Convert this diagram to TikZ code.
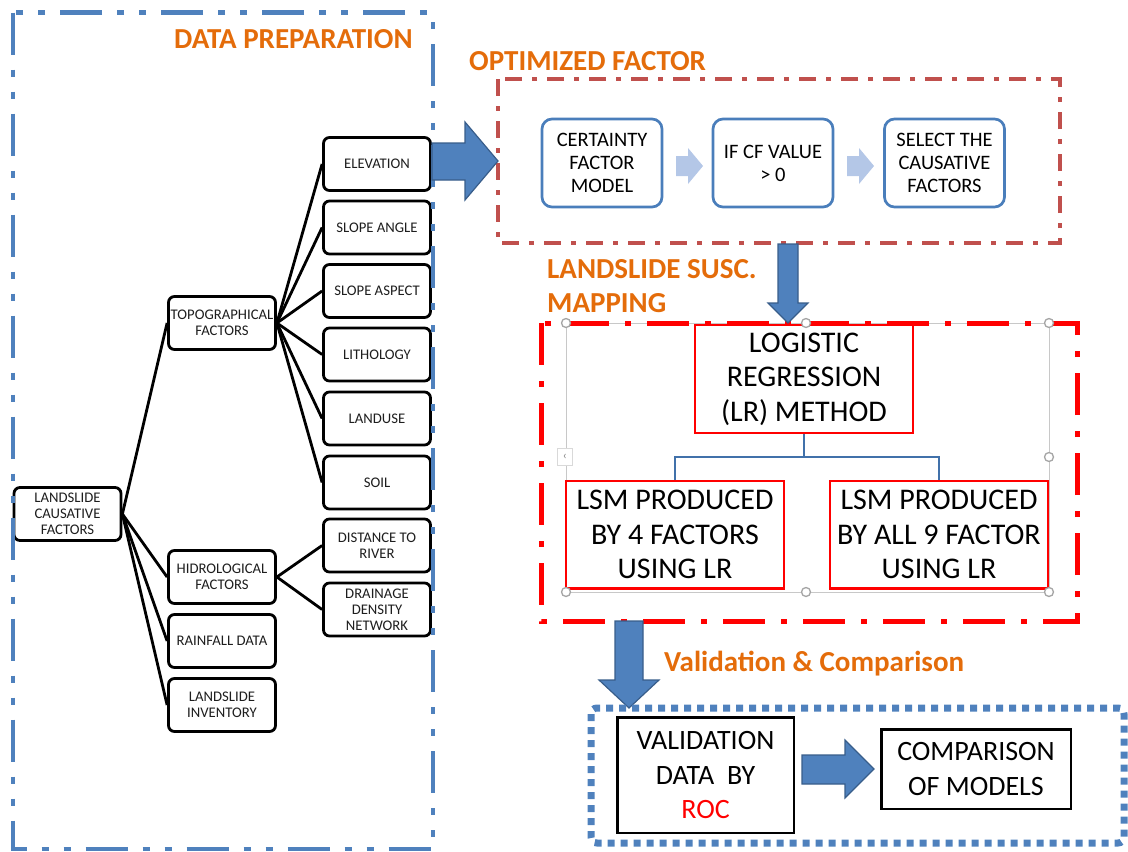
\documentclass[tikz,border=0pt]{standalone}
\usepackage{fontspec}
\setmainfont{Carlito}
\usetikzlibrary{calc}
\definecolor{frameblue}{RGB}{79,129,189}
\definecolor{arrowedge}{RGB}{56,93,138}
\definecolor{titleorange}{RGB}{228,108,10}
\definecolor{optred}{RGB}{192,80,77}
\definecolor{lightarrow}{RGB}{180,199,231}
\definecolor{cfblue}{RGB}{74,126,187}
\definecolor{handlegray}{RGB}{165,165,165}
\definecolor{selgray}{RGB}{200,200,200}
\definecolor{linkblue}{RGB}{65,113,170}
\definecolor{leaftext}{RGB}{30,30,30}

\begin{document}
\begin{tikzpicture}[x=1pt,y=-1pt,
  leaf/.style={draw=black, line width=2.8pt, rounded corners=6pt, fill=white,
    minimum width=107pt, minimum height=53pt, inner sep=0pt, align=center,
    text=leaftext, font=\fontsize{14.7}{16}\selectfont},
  tree/.style={line width=2.8pt, black},
  title/.style={anchor=base west, inner sep=0pt, text=titleorange,
    font=\bfseries\fontsize{29}{34}\selectfont},
  cfbox/.style={draw=cfblue, line width=2.7pt, rounded corners=10pt, fill=white,
    minimum width=120pt, minimum height=88pt, inner sep=0pt, align=center,
    font=\fontsize{20.5}{23}\selectfont},
  lrbox/.style={draw=red, line width=2.4pt, fill=white, inner sep=0pt, align=center,
    minimum width=217.6pt, minimum height=107.6pt, font=\fontsize{30}{34.5}\selectfont},
  valbox/.style={draw=black, line width=2.5pt, fill=white, inner sep=0pt, align=center,
    font=\fontsize{28}{35}\selectfont},
  blockarrow/.style={fill=frameblue, draw=arrowedge, line width=1.2pt, line join=miter},
  softarrow/.style={fill=lightarrow, draw=none},
  handle/.style={circle, draw=handlegray, line width=1.3pt, fill=white,
    minimum size=9pt, inner sep=0pt},
]
\useasboundingbox (0,0) rectangle (1128,852);

% ---------------- data preparation tree ----------------
\node[leaf] (root) at (67.5,514) {LANDSLIDE\\CAUSATIVE\\FACTORS};
\node[leaf] (topo) at (222,323) {TOPOGRAPHICAL\\FACTORS};
\node[leaf] (hydro) at (222,577) {HIDROLOGICAL\\FACTORS};
\node[leaf] (rain) at (222,641) {RAINFALL DATA};
\node[leaf] (inv) at (222,705) {LANDSLIDE\\INVENTORY};

\node[leaf] (elev) at (377,164) {ELEVATION};
\node[leaf] (slope) at (377,227.5) {SLOPE ANGLE};
\node[leaf] (aspect) at (377,291) {SLOPE ASPECT};
\node[leaf] (litho) at (377,354.5) {LITHOLOGY};
\node[leaf] (landuse) at (377,418.5) {LANDUSE};
\node[leaf] (soil) at (377,482.5) {SOIL};
\node[leaf] (river) at (377,545.5) {DISTANCE TO\\RIVER};
\node[leaf] (drain) at (377,609.5) {DRAINAGE\\DENSITY\\NETWORK};

\foreach \c in {topo,hydro,rain,inv}
  \draw[tree] (root.east) -- (\c.west);
\foreach \c in {elev,slope,aspect,litho,landuse,soil}
  \draw[tree] (topo.east) -- (\c.west);
\foreach \c in {river,drain}
  \draw[tree] (hydro.east) -- (\c.west);

% dash-dot-dot frame around the data preparation stage
\draw[frameblue, line width=4.5pt,
  dash pattern=on 42pt off 15pt on 7pt off 15pt on 7pt off 15pt]
  (13,12.5) rectangle (433,849);
\node[title] (tprep) at (174,48) {DATA PREPARATION};

% ---------------- optimized factor stage ----------------
\draw[optred, line width=3.5pt, dash pattern=on 17pt off 10pt on 5pt off 10pt]
  (498,79) rectangle (1060,243);
\node[title] (topt) at (469,70) {OPTIMIZED FACTOR};

\node[cfbox] (cfm) at (602,163) {CERTAINTY\\FACTOR\\MODEL};
\node[cfbox] (cfv) at (773,163) {IF CF VALUE\\> 0};
\node[cfbox] (sel) at (944.5,163) {SELECT THE\\CAUSATIVE\\FACTORS};

\fill[softarrow] (676,156) -- (688,156) -- (688,148) -- (703,166) -- (688,184)
  -- (688,176) -- (676,176) -- cycle;
\fill[softarrow] (847,156) -- (859,156) -- (859,148) -- (874,166) -- (859,184)
  -- (859,176) -- (847,176) -- cycle;

% block arrow from the factors to the optimisation stage
\filldraw[blockarrow] (432,143) -- (465,143) -- (465,122) -- (498,161) -- (465,200)
  -- (465,180) -- (432,180) -- cycle;

% ---------------- susceptibility mapping stage ----------------
\node[title] (tlsm1) at (547,278) {LANDSLIDE SUSC.};
\node[title] (tlsm2) at (547,312) {MAPPING};

\draw[selgray, line width=1pt] (566,323) rectangle (1049,592);
\draw[red, line width=5pt, dash pattern=on 42pt off 16pt on 6pt off 16pt]
  (541,323) rectangle (1077,621);

\node[lrbox] (lr) at (804,379) {LOGISTIC\\REGRESSION\\(LR) METHOD};
\node[lrbox] (lsm4) at (675,534.5) {LSM PRODUCED\\BY 4 FACTORS\\USING LR};
\node[lrbox] (lsm9) at (939,534.5) {LSM PRODUCED\\BY ALL 9 FACTOR\\USING LR};

\draw[linkblue, line width=2.5pt] (lr.south) -- ++(0,23) -| (lsm4.north);
\draw[linkblue, line width=2.5pt] (lr.south) -- ++(0,23) -| (lsm9.north);

\filldraw[blockarrow] (778,244) -- (798,244) -- (798,303) -- (808,303) -- (788,323)
  -- (768,303) -- (778,303) -- cycle;

% selection handles
\node[handle] (hTL) at (566,323) {};
\node[handle] (hTM) at (806,323) {};
\node[handle] (hTR) at (1049,323) {};
\node[handle] (hRM) at (1049,457) {};
\node[handle] (hBL) at (566,592) {};
\node[handle] (hBM) at (806,592) {};
\node[handle] (hBR) at (1049,592) {};
\node[draw=selgray!70, fill=white, minimum width=15pt, minimum height=17pt,
  inner sep=0pt, text=gray, font=\fontsize{12}{12}\selectfont] (tab) at (565,457) {‹};

% ---------------- validation stage ----------------
\filldraw[blockarrow] (615,621) -- (643,621) -- (643,680) -- (659,680) -- (629,708)
  -- (599,680) -- (615,680) -- cycle;
\node[title] (tval) at (664,671) {Validation \& Comparison};

\draw[frameblue, line width=7pt, dash pattern=on 7pt off 6pt, rounded corners=6pt]
  (591,708) rectangle (1124,843);

\node[valbox, minimum width=176.5pt, minimum height=115.5pt] (valid) at (705.5,775)
  {VALIDATION\\DATA\ \ BY\\\textcolor{red}{ROC}};
\node[valbox, minimum width=189.5pt, minimum height=79.5pt] (comp) at (976,769)
  {COMPARISON\\OF MODELS};

\filldraw[blockarrow] (802,755) -- (845,755) -- (845,740) -- (874,769) -- (845,798)
  -- (845,784) -- (802,784) -- cycle;
\end{tikzpicture}
\end{document}
